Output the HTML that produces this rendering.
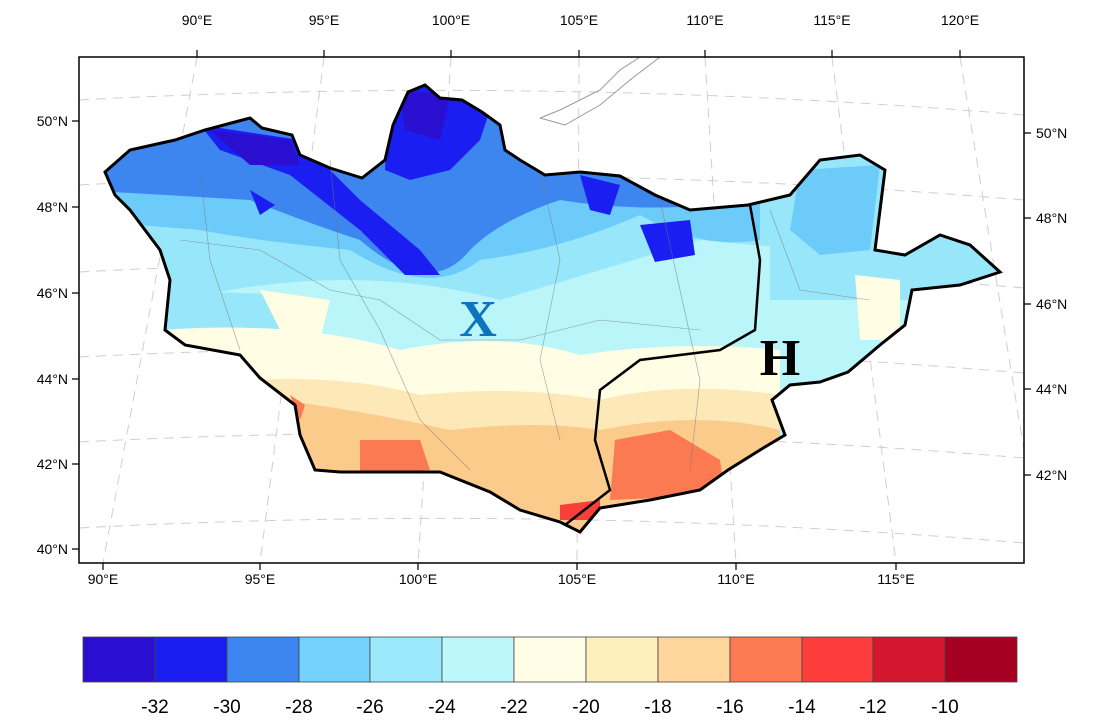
<!DOCTYPE html>
<html><head><style>
html,body{margin:0;padding:0;background:#fff;}
svg{display:block;font-family:"Liberation Sans",sans-serif;}
</style></head><body>
<svg width="1105" height="725" viewBox="0 0 1105 725" xmlns="http://www.w3.org/2000/svg">
<defs>
<clipPath id="mn"><path id="mnp" d="M105,172 L130,150 L175,140 L205,130 L235,122 L250,118 L262,128 L292,135 L300,155 L330,168 L362,178 L385,160 L393,125 L408,92 L425,85 L440,98 L462,100 L482,112 L500,125 L505,150 L520,160 L545,175 L580,172 L620,176 L655,195 L690,210 L748,205 L790,195 L820,160 L860,155 L885,170 L875,250 L905,255 L940,235 L970,245 L1000,272 L960,285 L912,290 L905,325 L880,345 L848,372 L820,382 L790,385 L772,400 L785,435 L760,450 L728,470 L700,490 L650,500 L600,508 L580,532 L560,522 L520,510 L490,492 L440,472 L400,472 L340,472 L315,470 L300,435 L295,405 L260,378 L240,355 L185,345 L165,330 L170,280 L160,250 L130,210 L115,195 Z"/></clipPath>
</defs>
<g stroke="#cfcfcf" stroke-width="1" stroke-dasharray="10,7" fill="none">
<path d="M79,100 Q550,75 1024,115"/><path d="M79,185 Q550,160 1024,200"/><path d="M79,272 Q550,247 1024,288"/><path d="M79,357 Q550,333 1024,373"/><path d="M79,442 Q550,418 1024,458"/><path d="M79,528 Q550,503 1024,543"/>
<path d="M197,57 L103,563"/><path d="M324,57 L260,563"/><path d="M451,57 L418,563"/><path d="M579,57 L577,563"/><path d="M705,57 L736,563"/><path d="M832,57 L896,563"/><path d="M960,57 L1024,450"/>
</g>
<path d="M540,118 L560,110 L600,90 L620,70 L640,57 M540,118 L565,125 L600,105 L630,80 L660,57" stroke="#999" fill="none"/>
<g clip-path="url(#mn)">
<rect x="79" y="57" width="945" height="506" fill="#b9f5f9"/>
<path d="M79,57 H1024 V265 Q800,250 700,240 Q600,270 500,300 Q350,260 180,300 L79,300Z" fill="#98e6fa"/>
<path d="M79,57 H760 V240 Q700,250 640,215 Q560,250 480,260 Q430,300 350,250 Q250,240 200,230 L79,220Z" fill="#6ccbf8"/>
<path d="M79,57 H760 V200 Q650,215 560,200 Q500,220 470,250 Q430,300 360,240 Q300,220 250,200 L79,190Z" fill="#3d86f0"/>
<path d="M200,125 L300,140 L360,200 L420,250 L440,275 L405,275 L360,230 L290,175 L220,150Z" fill="#1a1ef0"/>
<path d="M390,80 L500,80 L480,140 L450,170 L410,180 L385,170Z" fill="#1a1ef0"/>
<path d="M210,130 L290,140 L300,165 L250,165Z M400,90 L450,95 L440,140 L405,130Z" fill="#2a0fd0"/>
<path d="M250,190 L275,205 L260,215Z M580,175 L620,185 L610,215 L590,210Z M640,225 L690,220 L695,255 L655,262Z" fill="#1a1ef0"/>
<path d="M770,57 H1024 V300 L770,300Z" fill="#98e6fa"/>
<path d="M800,170 L880,165 L870,250 L820,255 L790,230Z" fill="#6ccbf8"/>
<path d="M160,290 L290,295 L280,345 L160,345Z" fill="#98e6fa"/>
<path d="M160,330 Q300,320 400,350 Q500,330 580,355 Q680,340 780,350 L780,563 L160,563Z" fill="#fffde3"/>
<path d="M260,290 L330,300 L320,340 L280,330Z M855,275 L900,280 L900,340 L860,340Z" fill="#fffde3"/>
<path d="M250,380 Q350,375 420,395 Q520,385 600,400 Q680,380 780,395 L780,563 L250,563Z" fill="#fde8b8"/>
<path d="M280,400 Q360,410 450,430 Q540,420 600,430 Q700,410 780,430 L780,563 L280,563Z" fill="#fbcb8c"/>
<path d="M360,440 L420,440 L430,470 L360,475Z M615,440 L670,430 L720,460 L725,495 L610,500Z M290,395 L305,405 L300,420Z" fill="#fb7a52"/>
<path d="M560,505 L600,500 L600,520 L560,520Z" fill="#f93f3a"/>
</g>
<g stroke="#777" stroke-width="0.6" fill="none" opacity="0.7">
<path d="M180,240 L260,250 L330,290 L380,300 L440,340 L520,340 L600,320 L700,330"/>
<path d="M330,160 L340,260 L380,330 L420,420 L470,470"/><path d="M540,170 L560,260 L540,360 L560,440"/>
<path d="M660,200 L680,290 L700,380 L690,470"/><path d="M200,170 L210,260 L240,350"/>
<path d="M770,210 L800,290 L870,300"/>
</g>
<use href="#mnp" fill="none" stroke="#000" stroke-width="3"/>
<path d="M750,205 L760,260 L755,330 L720,350 L640,360 L600,390 L595,440 L610,490 L565,525" stroke="#000" stroke-width="2.5" fill="none"/>
<text x="478" y="336" font-family="Liberation Serif,serif" font-weight="bold" font-size="52" fill="#0f74c0" text-anchor="middle">X</text>
<text x="780" y="375" font-family="Liberation Serif,serif" font-weight="bold" font-size="52" fill="#000" text-anchor="middle">H</text>
<rect x="79" y="57" width="945" height="506" fill="none" stroke="#000" stroke-width="1.5"/>
<g stroke="#000" stroke-width="1.2">
<path d="M197,57v-7M324,57v-7M451,57v-7M579,57v-7M705,57v-7M832,57v-7M960,57v-7"/>
<path d="M103,563v7M260,563v7M418,563v7M577,563v7M736,563v7M896,563v7"/>
<path d="M79,121h-7M79,207h-7M79,293h-7M79,379h-7M79,464h-7M79,549h-7"/>
<path d="M1024,133h7M1024,218h7M1024,304h7M1024,389h7M1024,475h7"/>
</g>
<g font-size="14" fill="#000" text-anchor="middle">
<text x="197" y="25">90°E</text><text x="324" y="25">95°E</text><text x="451" y="25">100°E</text><text x="579" y="25">105°E</text><text x="705" y="25">110°E</text><text x="832" y="25">115°E</text><text x="960" y="25">120°E</text>
<text x="103" y="584">90°E</text><text x="260" y="584">95°E</text><text x="418" y="584">100°E</text><text x="577" y="584">105°E</text><text x="736" y="584">110°E</text><text x="896" y="584">115°E</text>
</g>
<g font-size="14" fill="#000" text-anchor="end">
<text x="68" y="126">50°N</text><text x="68" y="212">48°N</text><text x="68" y="298">46°N</text><text x="68" y="384">44°N</text><text x="68" y="469">42°N</text><text x="68" y="554">40°N</text>
</g>
<g font-size="14" fill="#000">
<text x="1036" y="138">50°N</text><text x="1036" y="223">48°N</text><text x="1036" y="309">46°N</text><text x="1036" y="394">44°N</text><text x="1036" y="480">42°N</text>
</g>
<g stroke="#444" stroke-width="0.8">
<rect x="83" y="637" width="72" height="45" fill="#2a0fd0"/>
<rect x="155" y="637" width="72" height="45" fill="#1a1ef0"/>
<rect x="227" y="637" width="72" height="45" fill="#3d86f0"/>
<rect x="299" y="637" width="71" height="45" fill="#74d0fc"/>
<rect x="370" y="637" width="72" height="45" fill="#9ce9fc"/>
<rect x="442" y="637" width="72" height="45" fill="#bcf7fb"/>
<rect x="514" y="637" width="72" height="45" fill="#fffde6"/>
<rect x="586" y="637" width="72" height="45" fill="#fef0bd"/>
<rect x="658" y="637" width="72" height="45" fill="#fed59a"/>
<rect x="730" y="637" width="72" height="45" fill="#fd7a52"/>
<rect x="802" y="637" width="71" height="45" fill="#fd3c3c"/>
<rect x="873" y="637" width="72" height="45" fill="#d4172f"/>
<rect x="945" y="637" width="72" height="45" fill="#a50021"/>
</g>
<g font-size="19" fill="#000" text-anchor="middle">
<text x="155" y="713">-32</text><text x="227" y="713">-30</text><text x="299" y="713">-28</text><text x="370" y="713">-26</text><text x="442" y="713">-24</text><text x="514" y="713">-22</text><text x="586" y="713">-20</text><text x="658" y="713">-18</text><text x="730" y="713">-16</text><text x="802" y="713">-14</text><text x="873" y="713">-12</text><text x="945" y="713">-10</text>
</g>
</svg>
</body></html>
